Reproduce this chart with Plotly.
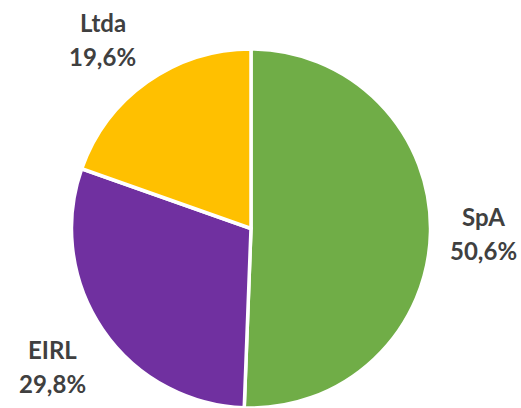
import math
import plotly.graph_objects as go

categories = ["SpA", "EIRL", "Ltda"]
shares = [50.6, 29.8, 19.6]
colors = ["#70AD47", "#7030A0", "#FFC000"]

W, H = 521, 408
dom_x = [71 / W, 431 / W]
dom_y = [0.0, 0.88]

fig = go.Figure(go.Pie(
    labels=categories,
    values=shares,
    sort=False,
    direction="clockwise",
    rotation=0,
    marker=dict(colors=colors, line=dict(color="white", width=3.5)),
    textinfo="none",
    hoverinfo="label+percent",
    showlegend=False,
    domain=dict(x=dom_x, y=dom_y),
))

# "outside end" label placement derived from slice mid-angles
cx = (dom_x[0] + dom_x[1]) / 2 * W
cy = H - (dom_y[0] + dom_y[1]) / 2 * H
r = min((dom_x[1] - dom_x[0]) * W, (dom_y[1] - dom_y[0]) * H) / 2
gap = 21          # px between pie edge and label box
box_w, box_h = 65, 51
total = sum(shares)
cum = 0.0
annotations = []
font = dict(family="Lato", size=24, color="#404040")
for name, v in zip(categories, shares):
    mid = (cum + v / 2) / total * 2 * math.pi
    cum += v
    s, c = math.sin(mid), -math.cos(mid)
    px = cx + (r + gap) * s + box_w / 2 * math.copysign(1, s)
    py = cy + (r + gap) * c + box_h / 2 * max(-1.0, min(1.0, 3 * c))
    xp, yp = px / W, 1 - py / H
    pct = f"{v:.1f}".replace(".", ",") + "%"
    annotations.append(dict(x=xp, y=yp, xref="paper", yref="paper", text=f"<b>{name}</b>",
                            showarrow=False, font=font, yshift=17, xanchor="center", yanchor="middle"))
    annotations.append(dict(x=xp, y=yp, xref="paper", yref="paper", text=f"<b>{pct}</b>",
                            showarrow=False, font=font, yshift=-17, xanchor="center", yanchor="middle"))

fig.update_layout(
    width=W, height=H,
    margin=dict(l=0, r=0, t=0, b=0),
    paper_bgcolor="white",
    plot_bgcolor="white",
    annotations=annotations,
)

fig.write_html("out.html",
               config={"displayModeBar": False},
               post_script="document.body.style.margin='0';document.body.style.overflow='hidden';")
